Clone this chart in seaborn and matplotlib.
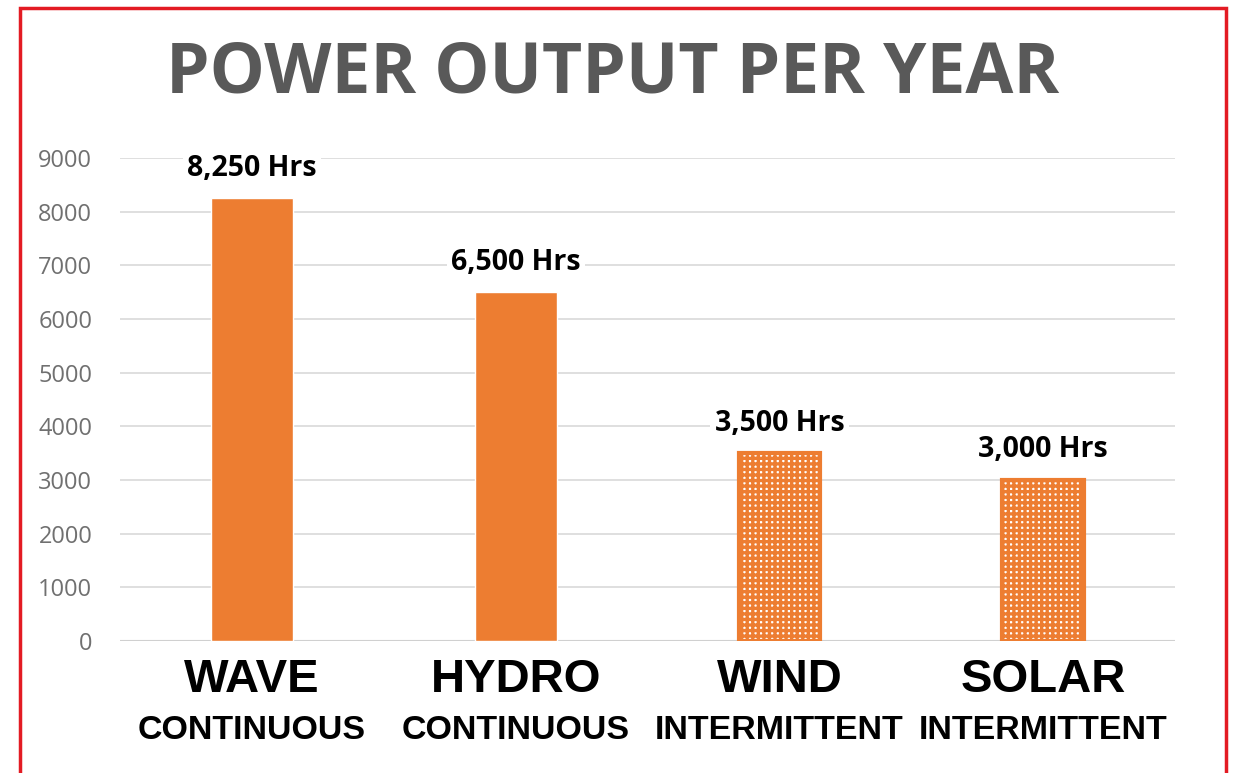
import matplotlib

matplotlib.use("Agg")
import matplotlib.pyplot as plt
import pandas as pd
import seaborn as sns
from matplotlib.patches import Rectangle
from matplotlib.transforms import blended_transform_factory

sources = ["WAVE", "HYDRO", "WIND", "SOLAR"]
kinds = ["CONTINUOUS", "CONTINUOUS", "INTERMITTENT", "INTERMITTENT"]
hours = [8250, 6500, 3500, 3000]
yticks = [0, 1000, 2000, 3000, 4000, 5000, 6000, 7000, 8000, 9000]

ORANGE = "#ED7D31"
GRAY = "#595959"

df = pd.DataFrame({"source": sources, "kind": kinds, "hours": hours})

sns.set_theme(style="white")
plt.rcParams["font.family"] = ["Open Sans", "DejaVu Sans"]
plt.rcParams["hatch.linewidth"] = 2.4

fig = plt.figure(figsize=(12.4, 7.73), dpi=100)
ax = fig.add_axes([0.0968, 0.1708, 0.8508, 0.6248])

sns.barplot(data=df, x="source", y="hours", order=sources, color=ORANGE,
            width=0.31, saturation=1, ax=ax, zorder=3)

# intermittent sources get the dotted pattern fill
for patch, kind in zip(ax.patches, df["kind"]):
    if kind == "INTERMITTENT":
        patch.set_facecolor("white")
        patch.set_edgecolor(ORANGE)
        patch.set_hatch("+++")
        patch.set_linewidth(3)

ax.set_xlim(-0.5, 3.5)
ax.set_ylim(0, 9000)
ax.set_yticks(yticks)
ax.yaxis.grid(True, color="#D9D9D9", linewidth=1.2, zorder=0)
ax.set_axisbelow(True)
for side in ["top", "right", "left", "bottom"]:
    ax.spines[side].set_visible(False)
ax.axhline(0, color="#D0D0D0", linewidth=1.5, zorder=2)

ax.tick_params(axis="y", length=0, pad=20, labelsize=17, labelcolor="#707070")
ax.tick_params(axis="x", length=0, pad=12)
ax.set_xlabel("")
ax.set_ylabel("")
for lab in ax.get_xticklabels():
    lab.set_family("Liberation Sans")
    lab.set_fontweight("bold")
    lab.set_fontsize(34)
    lab.set_color("black")

trans = blended_transform_factory(ax.transData, ax.transAxes)
for i, kind in enumerate(kinds):
    ax.text(i, -0.185, kind, transform=trans, ha="center", va="center",
            family="Liberation Sans", fontweight="bold", fontsize=24.5,
            color="black")

for i, h in enumerate(hours):
    ax.text(i, h + 560, f"{h:,} Hrs", ha="center", va="center",
            fontsize=20.5, fontweight="bold", color="black", zorder=4,
            bbox=dict(facecolor="white", edgecolor="none", pad=3))

fig.text(0.494, 0.903, "POWER OUTPUT PER YEAR", ha="center", va="center",
         fontsize=50, fontweight="bold", color=GRAY)

fig.patches.append(Rectangle((0.0165, -0.05), 0.9725, 1.04, transform=fig.transFigure,
                             fill=False, edgecolor="#E31B23", linewidth=2.5))

fig.savefig("out.png", dpi=100)
